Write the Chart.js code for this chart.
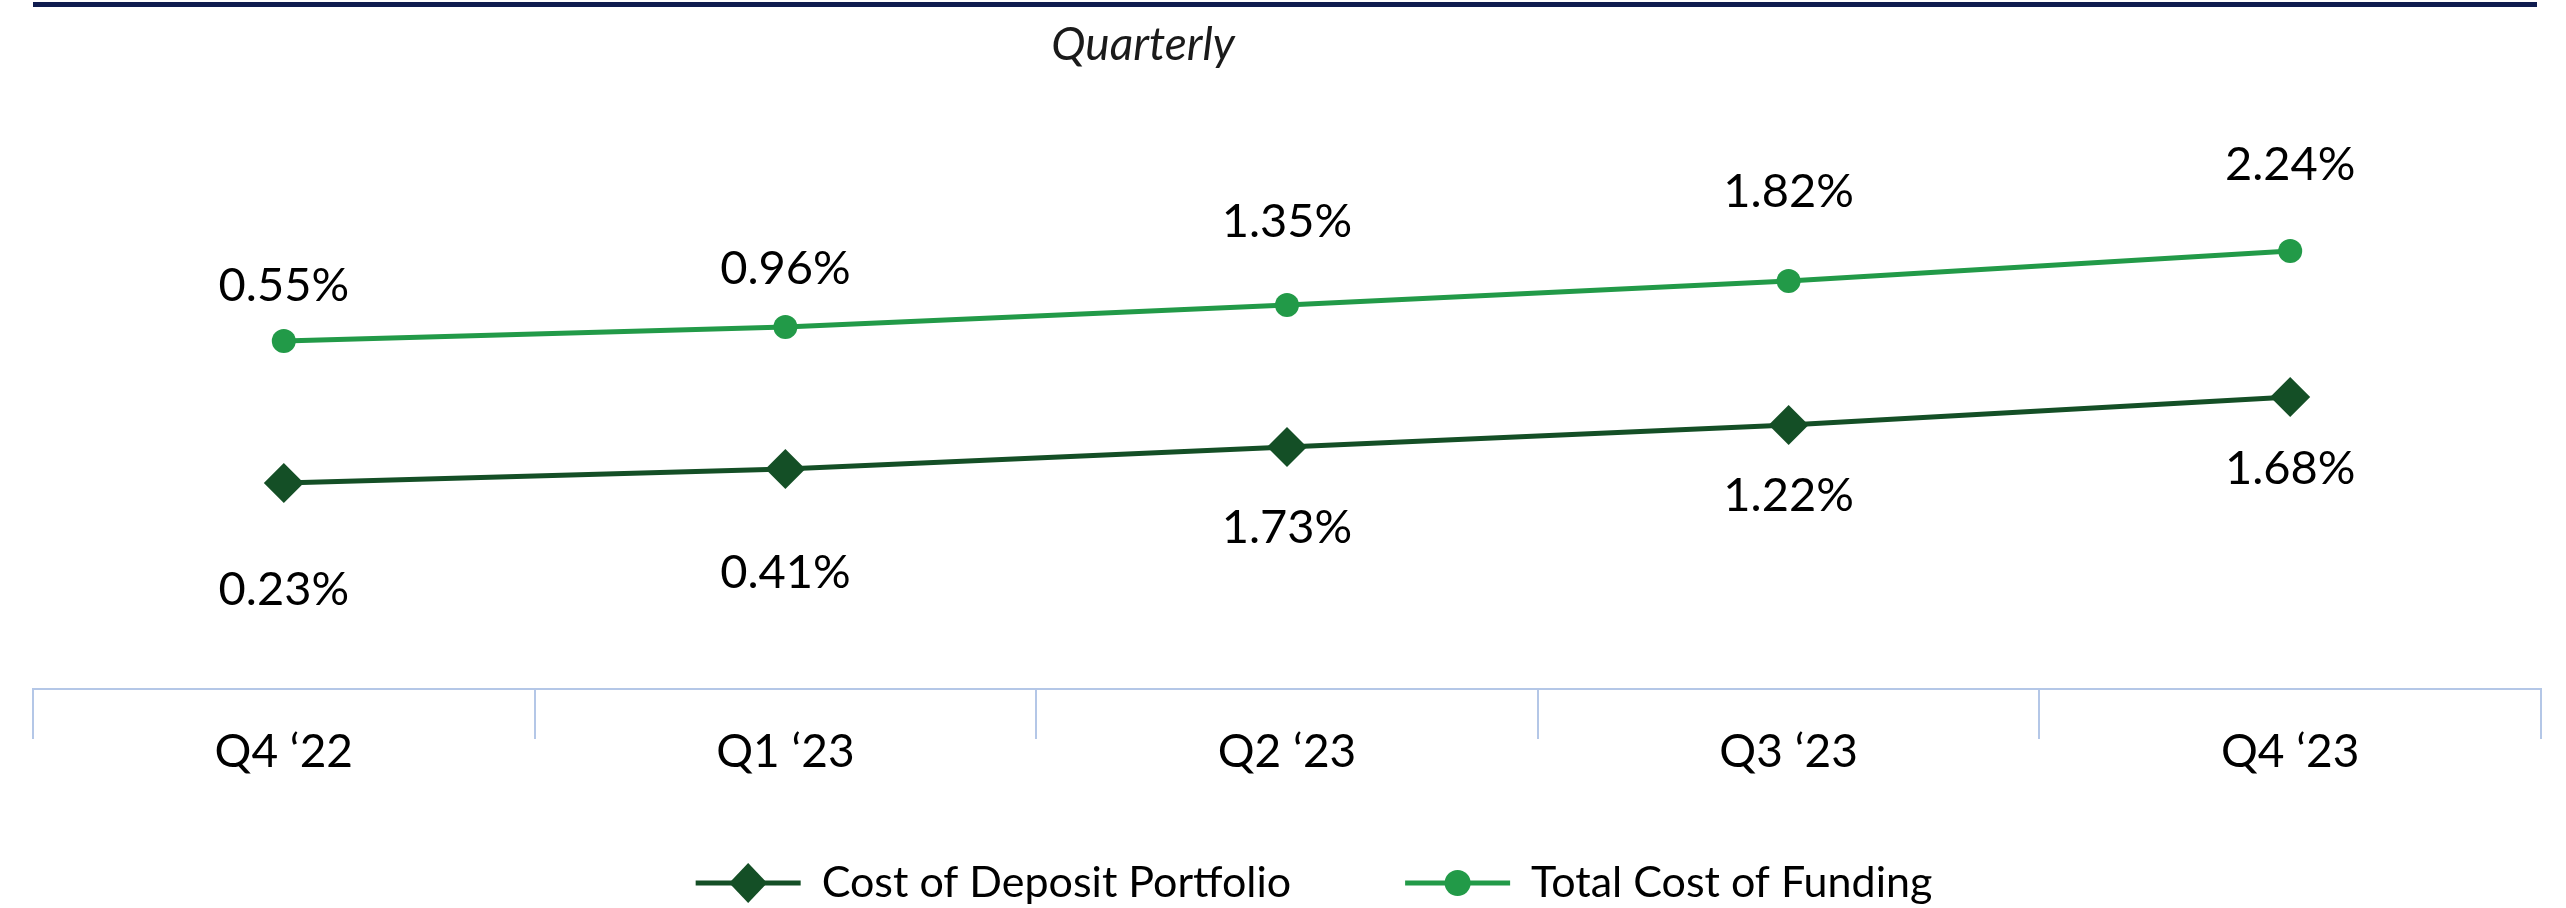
<!DOCTYPE html>
<html>
<head>
<meta charset="utf-8">
<script src="https://cdn.jsdelivr.net/npm/chart.js@4.4.0/dist/chart.umd.min.js"></script>
<style>
  html, body { margin: 0; padding: 0; background: #fff; }
</style>
</head>
<body>
<canvas id="grafico-costes" width="2566" height="908"></canvas>
<script>
// =========================================================
// DATOS
// =========================================================
const quarters = ['Q4 \u201822', 'Q1 \u201823', 'Q2 \u201823', 'Q3 \u201823', 'Q4 \u201823'];

// altura de cada punto tal como aparece en el gráfico
const depositLevels = [1.03, 1.10, 1.21, 1.32, 1.46];
const fundingLevels = [1.74, 1.81, 1.92, 2.04, 2.19];

// valores impresos junto a cada punto
const depositRates = [0.23, 0.41, 1.73, 1.22, 1.68];
const fundingRates = [0.55, 0.96, 1.35, 1.82, 2.24];

// separación vertical etiqueta / punto (px)
const fundingLift = [55, 58, 83, 89, 86];
const depositDrop = [107, 104, 81, 71, 72];

const FONT = 'Lato, "Open Sans", sans-serif';
const NAVY = '#0f1c4f';
const DARK_GREEN = '#144f26';
const GREEN = '#229a48';
const GRID = '#b4c7e7';

// =========================================================
// PLUGIN: barra superior, título, etiquetas y leyenda
// =========================================================
const decoracion = {
    id: 'decoracion',
    beforeDraw(chart) {
        const { ctx, chartArea } = chart;
        ctx.save();
        ctx.fillStyle = NAVY;
        ctx.fillRect(chartArea.left, 2, chartArea.right - chartArea.left - 4, 5);

        ctx.fillStyle = '#1a1a1a';
        ctx.font = 'italic 46px ' + FONT;
        ctx.textAlign = 'center';
        ctx.textBaseline = 'middle';
        ctx.fillText('Quarterly', 1143, 45);
        ctx.restore();
    },
    afterDatasetsDraw(chart) {
        const { ctx } = chart;
        ctx.save();
        ctx.font = '47px ' + FONT;
        ctx.fillStyle = '#000';
        ctx.textAlign = 'center';
        ctx.textBaseline = 'middle';

        chart.getDatasetMeta(0).data.forEach((pt, i) => {
            ctx.fillText(depositRates[i].toFixed(2) + '%', pt.x, pt.y + depositDrop[i]);
        });
        chart.getDatasetMeta(1).data.forEach((pt, i) => {
            ctx.fillText(fundingRates[i].toFixed(2) + '%', pt.x, pt.y - fundingLift[i]);
        });
        ctx.restore();
    },
    afterDraw(chart) {
        const { ctx, chartArea } = chart;
        const lineW = 105, textGap = 21, itemGap = 114, y = 883;
        ctx.save();
        ctx.font = '43px ' + FONT;
        ctx.textBaseline = 'middle';
        ctx.textAlign = 'left';

        const items = chart.data.datasets.map(ds => ({ ds, w: ctx.measureText(ds.label).width }));
        const total = items.reduce((s, it) => s + lineW + textGap + it.w, 0) + itemGap * (items.length - 1);
        let x = (chartArea.left + chartArea.right) / 2 + 27 - total / 2;

        items.forEach(({ ds, w }) => {
            const cx = x + lineW / 2;
            ctx.strokeStyle = ds.borderColor;
            ctx.lineWidth = 5;
            ctx.beginPath();
            ctx.moveTo(x, y);
            ctx.lineTo(x + lineW, y);
            ctx.stroke();

            ctx.fillStyle = ds.backgroundColor;
            ctx.beginPath();
            if (ds.pointStyle === 'rectRot') {
                ctx.moveTo(cx - 19, y);
                ctx.lineTo(cx, y - 20);
                ctx.lineTo(cx + 19, y);
                ctx.lineTo(cx, y + 20);
                ctx.closePath();
            } else {
                ctx.arc(cx, y, 13, 0, Math.PI * 2);
            }
            ctx.fill();

            ctx.fillStyle = '#000';
            ctx.fillText(ds.label, x + lineW + textGap, y);
            x += lineW + textGap + w + itemGap;
        });
        ctx.restore();
    }
};

// =========================================================
// GRÁFICO
// =========================================================
const ctxCostes = document.getElementById('grafico-costes').getContext('2d');

new Chart(ctxCostes, {
    type: 'line',
    data: {
        labels: quarters,
        datasets: [
            {
                label: 'Cost of Deposit Portfolio',
                data: depositLevels,
                borderColor: DARK_GREEN,
                backgroundColor: DARK_GREEN,
                borderWidth: 5,
                pointStyle: 'rectRot',
                pointRadius: 20,
                pointHoverRadius: 20,
                pointBorderWidth: 0,
                tension: 0
            },
            {
                label: 'Total Cost of Funding',
                data: fundingLevels,
                borderColor: GREEN,
                backgroundColor: GREEN,
                borderWidth: 5,
                pointStyle: 'circle',
                pointRadius: 12,
                pointHoverRadius: 12,
                pointBorderWidth: 0,
                tension: 0
            }
        ]
    },
    options: {
        responsive: false,
        animation: false,
        devicePixelRatio: 1,
        layout: { padding: { top: 89, left: 33, right: 25, bottom: 109 } },
        plugins: {
            legend: { display: false },
            tooltip: { enabled: false },
            title: { display: false }
        },
        scales: {
            x: {
                offset: true,
                afterFit: (scale) => { scale.height = 110; },
                grid: {
                    offset: true,
                    drawOnChartArea: false,
                    drawTicks: true,
                    tickLength: 50,
                    color: GRID,
                    lineWidth: 2
                },
                border: { display: true, color: GRID, width: 2 },
                ticks: {
                    font: { family: FONT, size: 46 },
                    color: '#000',
                    padding: -14
                }
            },
            y: { display: false, min: 0, max: 3 }
        }
    },
    plugins: [decoracion]
});
</script>
</body>
</html>
